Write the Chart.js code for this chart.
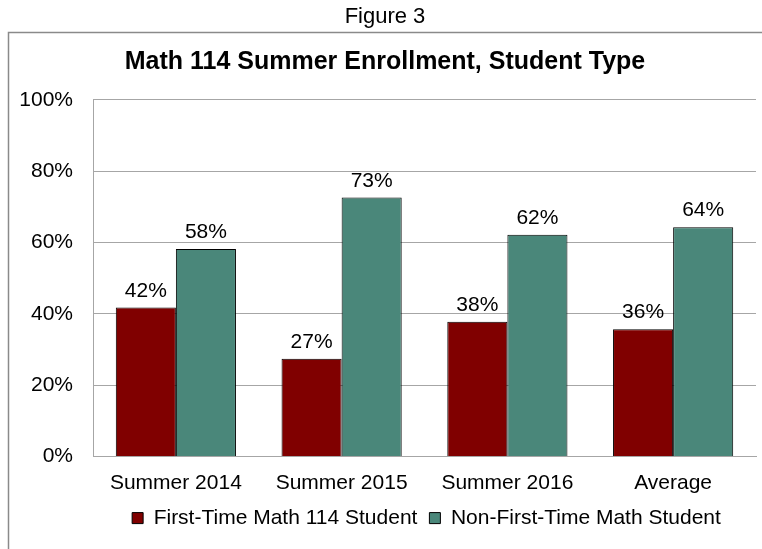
<!DOCTYPE html>
<html>
<head>
<meta charset="utf-8">
<script src="https://cdn.jsdelivr.net/npm/chart.js@4"></script>
<style>
  html, body { margin: 0; padding: 0; background: #ffffff; }
  #c { display: block; }
</style>
</head>
<body>
<canvas id="c" width="762" height="549"></canvas>
<script>
// ---- data ----
const categories = ['Summer 2014', 'Summer 2015', 'Summer 2016', 'Average'];
const firstTimeValues = [41.8, 27.4, 37.8, 35.7];
const nonFirstTimeValues = [58.2, 72.6, 62.2, 64.3];
const seriesNames = ['First-Time Math 114 Student', 'Non-First-Time Math Student'];
const yTicks = [0, 20, 40, 60, 80, 100];
const figureLabel = 'Figure 3';
const chartTitle = 'Math 114 Summer Enrollment, Student Type';

const FONT = '"Liberation Sans", Arial, sans-serif';
Chart.defaults.font.family = FONT;
Chart.defaults.color = '#000000';

// outer frame (left and top borders of the chart box)
const framePlugin = {
  id: 'frame',
  beforeDraw(chart) {
    const ctx = chart.ctx;
    ctx.save();
    ctx.fillStyle = '#ffffff';
    ctx.fillRect(0, 0, chart.width, chart.height);
    ctx.strokeStyle = '#8a8a8a';
    ctx.lineWidth = 1.5;
    ctx.beginPath();
    ctx.moveTo(8.5, chart.height);
    ctx.lineTo(8.5, 32.5);
    ctx.lineTo(chart.width, 32.5);
    ctx.stroke();
    ctx.restore();
  }
};

// value labels above bars
const valueLabels = {
  id: 'valueLabels',
  afterDatasetsDraw(chart) {
    const ctx = chart.ctx;
    ctx.save();
    ctx.font = '21px ' + FONT;
    ctx.fillStyle = '#000000';
    ctx.textAlign = 'center';
    ctx.textBaseline = 'middle';
    chart.data.datasets.forEach((ds, di) => {
      const meta = chart.getDatasetMeta(di);
      meta.data.forEach((el, i) => {
        ctx.fillText(Math.round(ds.data[i]) + '%', el.x, el.y - 16.5);
      });
    });
    ctx.restore();
  }
};

// legend centred under the plot area
const legendCenter = {
  id: 'legendCenter',
  afterLayout(chart) {
    const lg = chart.legend;
    if (lg) {
      lg.left = chart.chartArea.left + 4;
      lg.right = chart.chartArea.right;
      lg.width = lg.right - lg.left;
    }
  }
};

new Chart(document.getElementById('c'), {
  type: 'bar',
  data: {
    labels: categories,
    datasets: [
      {
        label: seriesNames[0],
        data: firstTimeValues,
        backgroundColor: '#800000',
        borderColor: '#000000',
        borderWidth: 1
      },
      {
        label: seriesNames[1],
        data: nonFirstTimeValues,
        backgroundColor: '#4a877a',
        borderColor: '#000000',
        borderWidth: 1
      }
    ]
  },
  options: {
    responsive: false,
    animation: false,
    devicePixelRatio: 1,
    layout: { padding: { left: 14, right: 6, top: 0, bottom: 10.4 } },
    datasets: { bar: { barPercentage: 1.0, categoryPercentage: 0.725 } },
    plugins: {
      title: {
        display: true,
        text: figureLabel,
        font: { size: 22, weight: 'normal', family: FONT },
        color: '#000000',
        padding: { top: 3.5, bottom: 0 }
      },
      subtitle: {
        display: true,
        text: chartTitle,
        font: { size: 25, weight: 'bold', family: FONT },
        color: '#000000',
        padding: { top: 17.7, bottom: 22.3 }
      },
      legend: {
        position: 'bottom',
        labels: {
          boxWidth: 11,
          boxHeight: 11,
          padding: 12,
          color: '#000000',
          font: { size: 21, family: FONT }
        }
      },
      tooltip: { enabled: false }
    },
    scales: {
      x: {
        grid: { display: false, drawTicks: false },
        border: { display: true, color: '#a6a6a6', width: 1 },
        ticks: { padding: 14, font: { size: 21 }, color: '#000000', maxRotation: 0 },
        afterFit(scale) { scale.height = 39.2; }
      },
      y: {
        min: 0,
        max: 100,
        afterBuildTicks(scale) { scale.ticks = yTicks.map(v => ({ value: v })); },
        grid: { color: '#a6a6a6', drawTicks: false },
        border: { display: true, color: '#a6a6a6', width: 1 },
        ticks: {
          padding: 20,
          font: { size: 21 },
          color: '#000000',
          callback: v => v + '%'
        },
        afterFit(scale) { scale.width = 79; }
      }
    }
  },
  plugins: [framePlugin, valueLabels, legendCenter]
});
</script>
</body>
</html>
